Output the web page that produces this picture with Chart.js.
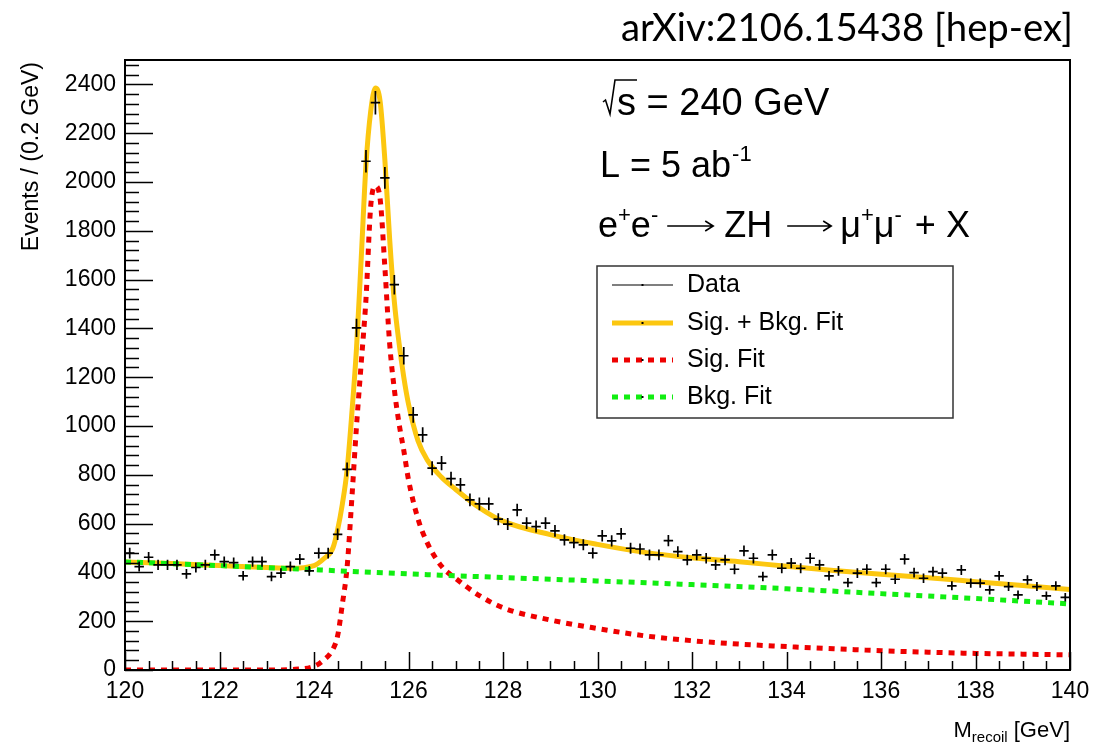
<!DOCTYPE html>
<html>
<head>
<meta charset="utf-8">
<script src="https://cdn.jsdelivr.net/npm/chart.js@4.4.0/dist/chart.umd.min.js"></script>
<style>
  html, body { margin: 0; padding: 0; background: #fff; }
</style>
</head>
<body>
<canvas id="recoil" width="1097" height="743"></canvas>
<script>
const FONT = '"Liberation Sans", Arial, Helvetica, sans-serif';

// histogram binning
const binLow = 120;
const binWidth = 0.2;
// events per 0.2 GeV bin
const events = [
  479, 424, 462, 431, 431, 431, 394, 420, 431, 472,
  444, 440, 386, 444, 444, 383, 397, 424, 454, 406,
  479, 479, 556, 822, 1402, 2085, 2325, 2017, 1579, 1288,
  1046, 964, 827, 848, 784, 759, 697, 681, 681, 618,
  598, 656, 602, 588, 602, 570, 533, 522, 513, 479,
  550, 529, 558, 499, 496, 472, 472, 530, 485, 451,
  472, 458, 431, 451, 413, 488, 458, 383, 472, 417,
  438, 417, 458, 431, 386, 406, 358, 397, 413, 358,
  413, 372, 454, 399, 376, 403, 397, 345, 410, 356,
  356, 328, 386, 342, 308, 369, 342, 304, 345, 298
];

// fit curves, sampled off the plot
const fitMass = [120, 121, 122, 123, 123.5, 124, 124.2, 124.4, 124.5, 124.6,
  124.7, 124.8, 124.9, 125.0, 125.1, 125.2, 125.3, 125.4, 125.5, 125.6,
  125.7, 125.8, 125.9, 126.0, 126.2, 126.4, 126.7, 127, 127.5, 128,
  129, 130, 131, 132, 133, 134, 135, 136, 137, 138, 139, 140];
const sigBkgFit = [443, 436, 428, 420, 417, 428, 455, 500, 575, 680,
  820, 1050, 1320, 1690, 2070, 2290, 2385, 2330, 2090, 1770,
  1510, 1340, 1200, 1090, 940, 860, 790, 740, 665, 610,
  555, 515, 482, 460, 444, 425, 408, 392, 378, 362, 346, 330];
const sigFit = [0, 0, 0, 0, 2, 15, 40, 85, 140, 270,
  420, 700, 1000, 1260, 1520, 1900, 1983, 1930, 1650, 1340,
  1150, 1010, 900, 780, 620, 520, 425, 375, 305, 255,
  205, 170, 140, 120, 106, 96, 87, 79, 73, 68, 65, 62];
const bkgMass = [120, 122, 124, 126, 128, 130, 132, 134, 136, 138, 140];
const bkgFit = [443, 428, 411, 394, 379, 365, 350, 333, 313, 293, 271];

// axis ticks
const xTicks = [120, 122, 124, 126, 128, 130, 132, 134, 136, 138, 140];
const yTicks = [0, 200, 400, 600, 800, 1000, 1200, 1400, 1600, 1800, 2000, 2200, 2400];

const binCenters = events.map((_, i) => binLow + binWidth * (i + 0.5));
const pts = (xs, ys) => xs.map((x, i) => ({ x: x, y: ys[i] }));

// data error bars, ROOT style crosses
const errorBars = {
  id: 'errorBars',
  afterDatasetsDraw(chart) {
    const { ctx, chartArea: a, scales: { x, y } } = chart;
    ctx.save();
    ctx.beginPath();
    ctx.rect(a.left, a.top, a.width, a.height);
    ctx.clip();
    ctx.strokeStyle = '#000';
    ctx.lineWidth = 1.7;
    ctx.beginPath();
    binCenters.forEach((m, i) => {
      const n = events[i];
      const e = Math.sqrt(n);
      const px = x.getPixelForValue(m);
      const py = y.getPixelForValue(n);
      ctx.moveTo(x.getPixelForValue(m - binWidth / 2), py);
      ctx.lineTo(x.getPixelForValue(m + binWidth / 2), py);
      ctx.moveTo(px, y.getPixelForValue(n - e));
      ctx.lineTo(px, y.getPixelForValue(n + e));
    });
    ctx.stroke();
    ctx.restore();
  }
};

// text runs with super/subscripts and drawn arrows
function runs(ctx, x, y, parts) {
  parts.forEach(p => {
    if (p.arrow) {
      const ay = y - 11;
      ctx.save();
      ctx.strokeStyle = '#000';
      ctx.lineWidth = 1.6;
      ctx.beginPath();
      ctx.moveTo(x, ay);
      ctx.lineTo(x + p.arrow, ay);
      ctx.moveTo(x + p.arrow - 8, ay - 5);
      ctx.lineTo(x + p.arrow, ay);
      ctx.lineTo(x + p.arrow - 8, ay + 5);
      ctx.stroke();
      ctx.restore();
      x += p.arrow + (p.gap || 0);
      return;
    }
    ctx.font = p.size + 'px ' + FONT;
    ctx.fillText(p.t, x, y + (p.dy || 0));
    x += ctx.measureText(p.t).width + (p.gap || 0);
  });
  return x;
}

const rootDecor = {
  id: 'rootDecor',
  afterDraw(chart) {
    const { ctx, chartArea: a, scales: { x, y } } = chart;
    ctx.save();

    // ticks (inside the frame)
    ctx.strokeStyle = '#000';
    ctx.lineWidth = 1.5;
    ctx.beginPath();
    for (let k = 0; k <= 62; k++) {
      const v = k * 40;
      const p = Math.round(y.getPixelForValue(v)) + 0.5;
      const len = k % 5 === 0 ? 28 : 14;
      ctx.moveTo(a.left, p);
      ctx.lineTo(a.left + len, p);
    }
    for (let k = 0; k <= 40; k++) {
      const v = 120 + k * 0.5;
      const p = Math.round(x.getPixelForValue(v)) + 0.5;
      const len = k % 4 === 0 ? 18 : 9;
      ctx.moveTo(p, a.bottom);
      ctx.lineTo(p, a.bottom - len);
    }
    ctx.stroke();

    // frame
    ctx.lineWidth = 2;
    ctx.strokeRect(a.left, a.top, a.width, a.height);

    ctx.fillStyle = '#000';
    ctx.textBaseline = 'alphabetic';

    // y title
    ctx.save();
    ctx.translate(38, a.top + 2);
    ctx.rotate(-Math.PI / 2);
    ctx.font = '23px ' + FONT;
    ctx.textAlign = 'right';
    ctx.fillText('Events / (0.2 GeV)', 0, 0);
    ctx.restore();

    // x title
    ctx.textAlign = 'left';
    ctx.font = '22px ' + FONT;
    const wM = ctx.measureText('M').width;
    ctx.font = '15px ' + FONT;
    const wSub = ctx.measureText('recoil').width;
    ctx.font = '22px ' + FONT;
    const wRest = ctx.measureText(' [GeV]').width;
    runs(ctx, a.right - wM - wSub - wRest, 737, [
      { t: 'M', size: 22 }, { t: 'recoil', size: 15, dy: 5 }, { t: ' [GeV]', size: 22 }
    ]);

    // paper reference
    ctx.font = '36px Lato, "Open Sans", sans-serif';
    const ref = 'arXiv:2106.15438 [hep-ex]';
    const fs = 36 * 452 / ctx.measureText(ref).width;
    ctx.font = fs.toFixed(1) + 'px Lato, "Open Sans", sans-serif';
    ctx.textAlign = 'right';
    ctx.fillText(ref, 1073, 41);
    ctx.textAlign = 'left';

    // sqrt(s) = 240 GeV
    ctx.font = '38px ' + FONT;
    const x0 = 603, b0 = 115;
    ctx.lineWidth = 1.6;
    ctx.beginPath();
    ctx.moveTo(x0, b0 - 13);
    ctx.lineTo(x0 + 2.5, b0 - 15);
    ctx.lineTo(x0 + 7, b0 - 1);
    ctx.lineTo(x0 + 12, b0 - 35);
    ctx.lineTo(x0 + 34, b0 - 35);
    ctx.stroke();
    runs(ctx, x0 + 14, b0, [{ t: 's = 240 GeV', size: 38 }]);

    runs(ctx, 600, 177, [{ t: 'L = 5 ab', size: 36, gap: 1 }, { t: '-1', size: 22, dy: -16 }]);

    runs(ctx, 598, 237, [
      { t: 'e', size: 36 }, { t: '+', size: 22, dy: -15 },
      { t: 'e', size: 36 }, { t: '-', size: 22, dy: -15, gap: 9 },
      { arrow: 46, gap: 11 }, { t: 'ZH', size: 36, gap: 15 },
      { arrow: 44, gap: 9 },
      { t: '\u03bc', size: 36 }, { t: '+', size: 22, dy: -15 },
      { t: '\u03bc', size: 36 }, { t: '-', size: 22, dy: -15, gap: 3 },
      { t: ' + X', size: 36 }
    ]);

    // legend
    const lx = 597, ly = 266, lw = 356, lh = 152;
    ctx.fillStyle = '#fff';
    ctx.fillRect(lx, ly, lw, lh);
    ctx.strokeStyle = '#333';
    ctx.lineWidth = 1.5;
    ctx.strokeRect(lx, ly, lw, lh);
    const rows = [285, 323, 360, 397];
    const labels = ['Data', 'Sig. + Bkg. Fit', 'Sig. Fit', 'Bkg. Fit'];
    const sets = [chart.data.datasets[3], chart.data.datasets[0], chart.data.datasets[1], chart.data.datasets[2]];
    rows.forEach((ry, i) => {
      const ds = sets[i];
      ctx.beginPath();
      ctx.strokeStyle = i === 0 ? '#000' : ds.borderColor;
      ctx.lineWidth = i === 0 ? 1.2 : ds.borderWidth;
      ctx.setLineDash(i > 1 ? ds.borderDash : []);
      ctx.moveTo(612, ry);
      ctx.lineTo(673, ry);
      ctx.stroke();
      ctx.setLineDash([]);
      ctx.fillStyle = '#000';
      ctx.fillRect(641.5, ry - 1, 2, 2);
      ctx.font = '25px ' + FONT;
      ctx.textBaseline = 'middle';
      ctx.fillText(labels[i], 687, ry);
    });

    ctx.restore();
  }
};

new Chart(document.getElementById('recoil'), {
  type: 'line',
  data: {
    datasets: [
      {
        label: 'Sig. + Bkg. Fit',
        data: pts(fitMass, sigBkgFit),
        borderColor: '#fcc710',
        borderWidth: 5,
        pointRadius: 0,
        cubicInterpolationMode: 'monotone',
        order: 3
      },
      {
        label: 'Sig. Fit',
        data: pts(fitMass, sigFit),
        borderColor: '#ee0000',
        borderWidth: 5,
        borderDash: [6, 6],
        pointRadius: 0,
        cubicInterpolationMode: 'monotone',
        order: 2
      },
      {
        label: 'Bkg. Fit',
        data: pts(bkgMass, bkgFit),
        borderColor: '#11ee11',
        borderWidth: 5,
        borderDash: [6, 6],
        pointRadius: 0,
        cubicInterpolationMode: 'monotone',
        order: 1
      },
      {
        label: 'Data',
        type: 'scatter',
        data: pts(binCenters, events),
        showLine: false,
        pointRadius: 1,
        pointBackgroundColor: '#000',
        pointBorderWidth: 0,
        order: 0
      }
    ]
  },
  options: {
    responsive: false,
    animation: false,
    devicePixelRatio: 1,
    layout: { padding: { left: 0, right: 27, top: 60, bottom: 0 } },
    plugins: {
      legend: { display: false },
      tooltip: { enabled: false }
    },
    scales: {
      x: {
        type: 'linear',
        min: 120,
        max: 140,
        afterBuildTicks: (s) => { s.ticks = xTicks.map(v => ({ value: v })); },
        afterFit: (s) => { s.height = 73; },
        grid: { display: false },
        border: { display: false },
        ticks: { color: '#000', font: { family: FONT, size: 23 }, padding: 0, maxRotation: 0, autoSkip: false, callback: (v) => String(v) }
      },
      y: {
        type: 'linear',
        min: 0,
        max: 2500,
        afterBuildTicks: (s) => { s.ticks = yTicks.map(v => ({ value: v })); },
        afterFit: (s) => { s.width = 125; },
        grid: { display: false },
        border: { display: false },
        ticks: { color: '#000', font: { family: FONT, size: 23 }, padding: 1, autoSkip: false, callback: (v) => String(v) }
      }
    }
  },
  plugins: [errorBars, rootDecor]
});
</script>
</body>
</html>
